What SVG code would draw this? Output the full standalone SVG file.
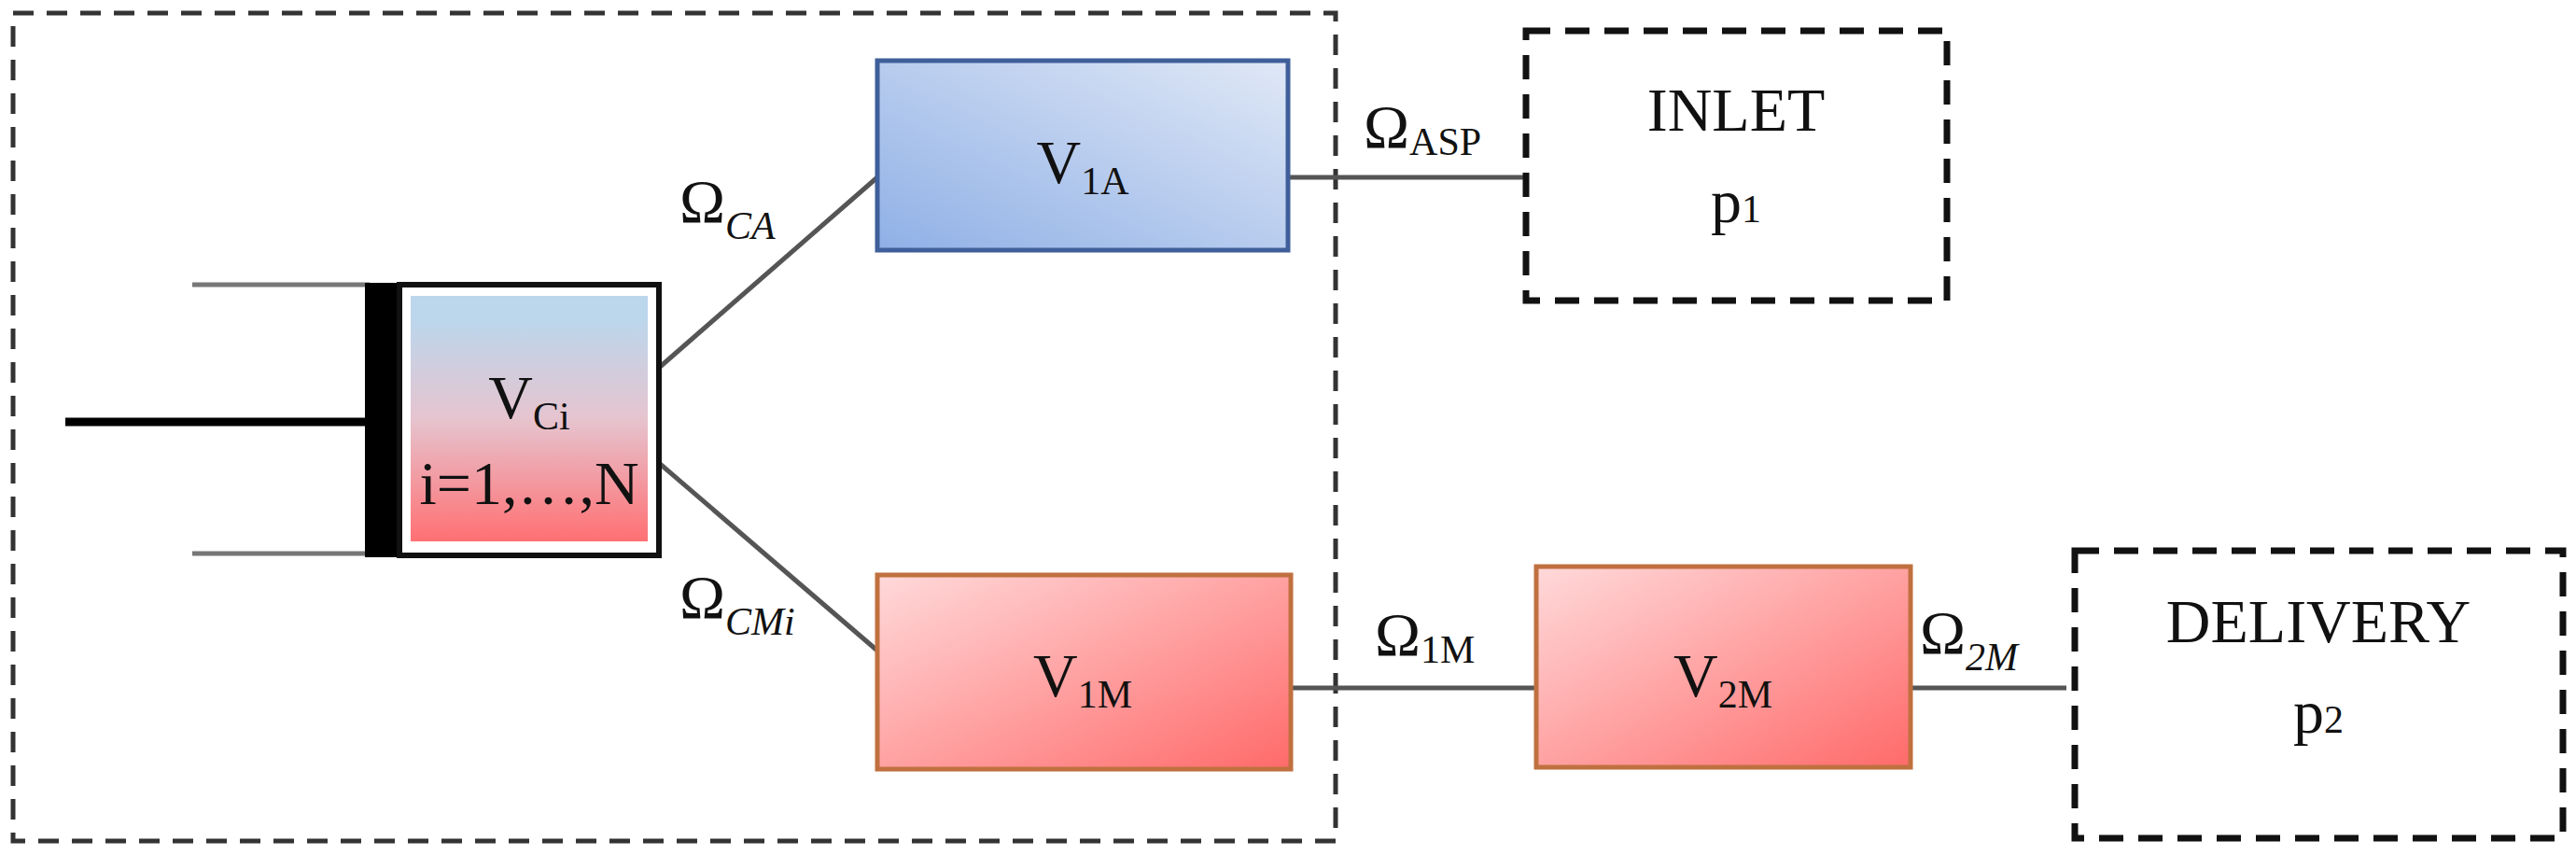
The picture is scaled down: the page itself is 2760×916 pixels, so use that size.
<svg xmlns="http://www.w3.org/2000/svg" width="2760" height="916" viewBox="0 0 2760 916">
<style>
text{font-family:"Liberation Serif","Times New Roman",serif;fill:#111;font-size:66px}
.sub{font-size:42px}
.it{font-style:italic}
.conn{stroke:#555;stroke-width:5;fill:none}
.dash{fill:none;stroke:#111;stroke-width:7;stroke-dasharray:26 16}
.dash2{fill:none;stroke:#333;stroke-width:5;stroke-dasharray:22 14}
</style>
<defs>
<linearGradient id="gb" x1="0" y1="1" x2="1" y2="0"><stop offset="0" stop-color="#8fb0e6"/><stop offset="1" stop-color="#e0e8f6"/></linearGradient>
<linearGradient id="gr" x1="0" y1="0" x2="1" y2="1"><stop offset="0" stop-color="#ffd9da"/><stop offset="1" stop-color="#ff6a6a"/></linearGradient>
<linearGradient id="gc" x1="0" y1="0" x2="0" y2="1"><stop offset="0.1" stop-color="#bcd6ec"/><stop offset="0.5" stop-color="#e6c4cf"/><stop offset="1" stop-color="#ff7073"/></linearGradient>
</defs>
<g id="boundary"><rect class="dash2" x="14" y="14" width="1417" height="887"/></g>
<g id="connectors">
<line class="conn" x1="706" y1="394" x2="940" y2="190"/>
<line class="conn" x1="706" y1="496" x2="940" y2="697"/>
<line class="conn" x1="1380" y1="190" x2="1635" y2="190"/>
<line class="conn" x1="1383" y1="737" x2="1646" y2="737"/>
<line class="conn" x1="2047" y1="737" x2="2214" y2="737"/>
</g>
<g id="labels">
<text x="728" y="238" font-size="74">Ω<tspan class="sub it" dy="18">CA</tspan></text>
<text x="728" y="662" font-size="74">Ω<tspan class="sub it" dy="18">CMi</tspan></text>
<text x="1461" y="158" font-size="60">Ω<tspan class="sub" dy="8" font-size="38">ASP</tspan></text>
<text x="1473" y="702" font-size="60">Ω<tspan class="sub" dy="8" font-size="38">1M</tspan></text>
<text x="2057" y="700" font-size="74">Ω<tspan class="sub it" dy="18">2M</tspan></text>
</g>
<g id="piston">
<line x1="206" y1="305" x2="396" y2="305" stroke="#777" stroke-width="5"/>
<line x1="206" y1="593" x2="396" y2="593" stroke="#777" stroke-width="5"/>
<line x1="70" y1="452" x2="396" y2="452" stroke="#000" stroke-width="9"/>
<rect x="391" y="303" width="37" height="294" fill="#000"/>
</g>
<g id="VCi">
<rect x="428" y="305" width="278" height="290" fill="#fff" stroke="#111" stroke-width="6"/>
<rect x="440" y="317" width="254" height="263" fill="url(#gc)"/>
<text x="567" y="448" text-anchor="middle">V<tspan class="sub" dy="12">Ci</tspan></text>
<text x="567" y="540" text-anchor="middle" font-size="50">i=1,…,N</text>
</g>
<g id="V1A">
<rect x="940" y="65" width="440" height="203" fill="url(#gb)" stroke="#3f5f9a" stroke-width="5"/>
<text x="1160" y="196" text-anchor="middle">V<tspan class="sub" dy="12">1A</tspan></text>
</g>
<g id="V1M">
<rect x="940" y="616" width="443" height="208" fill="url(#gr)" stroke="#c0703f" stroke-width="5"/>
<text x="1160" y="746" text-anchor="middle">V<tspan class="sub" dy="12">1M</tspan></text>
</g>
<g id="V2M">
<rect x="1646" y="607" width="401" height="215" fill="url(#gr)" stroke="#c0703f" stroke-width="5"/>
<text x="1846" y="746" text-anchor="middle">V<tspan class="sub" dy="12">2M</tspan></text>
</g>
<g id="INLET">
<rect class="dash" x="1635" y="33" width="451" height="289"/>
<text x="1860" y="140" text-anchor="middle">INLET</text>
<text x="1860" y="238" text-anchor="middle">p<tspan class="sub">1</tspan></text>
</g>
<g id="DELIVERY">
<rect class="dash" x="2223" y="590" width="523" height="308"/>
<text x="2484" y="688" text-anchor="middle">DELIVERY</text>
<text x="2484" y="785" text-anchor="middle">p<tspan class="sub">2</tspan></text>
</g>
</svg>
